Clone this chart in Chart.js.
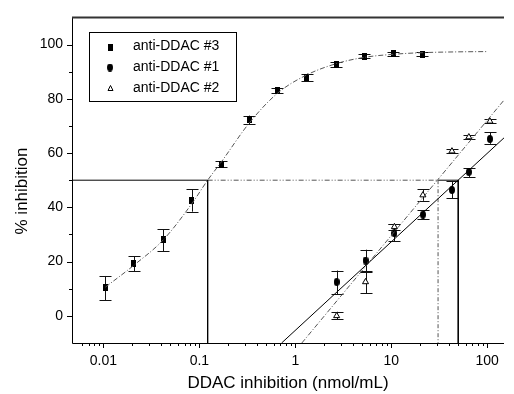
<!DOCTYPE html>
<html>
<head>
<meta charset="utf-8">
<script src="https://cdn.jsdelivr.net/npm/chart.js@4"></script>
<style>
  body { margin: 0; background: #fff; }
  canvas { display: block; }
</style>
</head>
<body>
<canvas id="chart" width="514" height="394"></canvas>
<script>
// anti-DDAC #3 (filled squares)
const x3 = [0.0105, 0.0207, 0.0418, 0.083, 0.17, 0.33, 0.65, 1.32, 2.68, 5.25, 10.5, 21];
const y3 = [10.4, 19.4, 28, 42.4, 55.8, 72.3, 83, 87.9, 92.7, 95.7, 96.6, 96.5];
const hi3 = [14.7, 22, 32, 46.7, 56.9, 73.8, 84.1, 89.3, 93.5, 96.5, 97.4, 97.4];
const lo3 = [5.7, 16.4, 23.8, 38.4, 54.7, 70.7, 82, 86.7, 91.9, 94.9, 95.8, 95.6];

// anti-DDAC #1 (filled circles)
const x1 = [2.7, 5.4, 10.8, 21.4, 43, 64.5, 107];
const y1 = [12.5, 20.4, 30.4, 37.3, 46.4, 53, 65.2];
const hi1 = [16.7, 24.4, 33.8, 39, 49.7, 54.4, 67.7];
const lo1 = [8, 16.4, 27.5, 35.7, 43.4, 51.2, 63.4];

// anti-DDAC #2 (open triangles)
const x2 = [2.7, 5.4, 10.8, 21.4, 43, 64.5, 107];
const y2 = [0, 12.5, 32.8, 44.5, 60.7, 65.9, 71.7];
const hi2 = [1.5, 16.1, 34, 46.7, 61.5, 66.6, 72.5];
const lo2 = [-1.3, 8.4, 31.5, 42.4, 59.9, 65.2, 70.9];

// fitted sigmoid for #3
const curveX = [0.0105, 0.021, 0.042, 0.084, 0.122, 0.17, 0.33, 0.65, 1.3, 2.7, 5.3, 10.5, 21, 50, 100];
const curveY = [10.6, 18.8, 28, 41.5, 50, 56.8, 71, 82, 88.7, 93, 95.3, 96.4, 97, 97.3, 97.4];

// linear fits for #1 and #2
const fit1X = [0.72, 150];
const fit1Y = [-10, 65.6];
const fit2X = [1.17, 150];
const fit2Y = [-10, 79.5];

// 50% inhibition guide lines
const ic3X = [0.0047, 0.122, 0.122];
const ic3Y = [50, 50, -10];
const midX = [0.122, 30.8];
const midY = [50, 50];
const ic2X = [30.8, 30.8];
const ic2Y = [50, -10];
const ic1X = [30.8, 50, 50];
const ic1Y = [50, 50, -10];

const xTickValues = [0.01, 0.1, 1, 10, 100];
const xTickLabels = ["0.01", "0.1", "1", "10", "100"];
const yTickValues = [0, 20, 40, 60, 80, 100];
const yTickLabels = ["0", "20", "40", "60", "80", "100"];

const legendLabels = ["anti-DDAC #3", "anti-DDAC #1", "anti-DDAC #2"];

const FONT = "'Liberation Sans', Arial, sans-serif";

function toPoints(xs, ys) {
  return xs.map((x, i) => ({ x: x, y: ys[i] }));
}

// small canvases used as point styles
function makeMarker(w, h, shape) {
  const c = document.createElement("canvas");
  c.width = w;
  c.height = h;
  const g = c.getContext("2d");
  g.fillStyle = "#000";
  if (shape === "ellipse") {
    g.beginPath();
    g.ellipse(w / 2, h / 2, w / 2, h / 2, 0, 0, Math.PI * 2);
    g.fill();
  } else {
    g.fillRect(0, 0, w, h);
  }
  return c;
}
const squareMark = makeMarker(5, 7, "rect");
const ellipseMark = makeMarker(6, 8, "ellipse");

function lineSet(xs, ys, color, dash, smooth) {
  return {
    type: "scatter",
    data: toPoints(xs, ys),
    showLine: true,
    borderColor: color,
    borderWidth: 1,
    borderDash: dash,
    pointRadius: 0,
    cubicInterpolationMode: smooth ? "monotone" : "default",
    fill: false,
  };
}

function markSet(xs, ys, his, los, style, extra) {
  return Object.assign(
    {
      type: "scatter",
      data: toPoints(xs, ys),
      _hi: his,
      _lo: los,
      pointStyle: style,
      pointRadius: 4,
      backgroundColor: "#000",
      borderColor: "#000",
      borderWidth: 1,
    },
    extra || {}
  );
}

const datasets = [
  lineSet(curveX, curveY, "#555", [5, 2, 1, 2], true),
  lineSet(fit1X, fit1Y, "#000", [], false),
  lineSet(fit2X, fit2Y, "#555", [5, 2, 1, 2], false),
  lineSet(ic3X, ic3Y, "#000", [], false),
  lineSet(midX, midY, "#555", [5, 2, 1, 2, 1, 2], false),
  lineSet(ic2X, ic2Y, "#555", [4, 2, 1, 2], false),
  lineSet(ic1X, ic1Y, "#000", [], false),
  markSet(x3, y3, hi3, lo3, squareMark),
  markSet(x1, y1, hi1, lo1, ellipseMark),
  markSet(x2, y2, hi2, lo2, "triangle", {
    pointRadius: 3.5,
    backgroundColor: "#fff",
  }),
];

function isDecade(v) {
  const l = Math.log10(v);
  return Math.abs(l - Math.round(l)) < 1e-6;
}

// error bars under the markers
const errorBars = {
  id: "errorBars",
  beforeDatasetsDraw(chart) {
    const { ctx } = chart;
    const xs = chart.scales.x;
    const ys = chart.scales.y;
    ctx.save();
    ctx.strokeStyle = "#111";
    ctx.lineWidth = 1;
    chart.data.datasets.forEach((ds) => {
      if (!ds._hi) return;
      ds.data.forEach((p, i) => {
        const px = Math.round(xs.getPixelForValue(p.x)) + 0.5;
        const top = ys.getPixelForValue(ds._hi[i]);
        const bot = ys.getPixelForValue(ds._lo[i]);
        ctx.beginPath();
        ctx.moveTo(px, top);
        ctx.lineTo(px, bot);
        ctx.moveTo(px - 6, Math.round(top) + 0.5);
        ctx.lineTo(px + 6, Math.round(top) + 0.5);
        ctx.moveTo(px - 6, Math.round(bot) + 0.5);
        ctx.lineTo(px + 6, Math.round(bot) + 0.5);
        ctx.stroke();
      });
    });
    ctx.restore();
  },
};

// frame, tick marks, y title and the boxed legend
const decorations = {
  id: "decorations",
  afterDraw(chart) {
    const { ctx, chartArea } = chart;
    const { left, right, top, bottom } = chartArea;
    const xs = chart.scales.x;
    const ys = chart.scales.y;
    ctx.save();

    ctx.strokeStyle = "#000";
    ctx.lineWidth = 1;
    ctx.beginPath();
    ctx.moveTo(left + 0.5, top);
    ctx.lineTo(left + 0.5, bottom + 0.5);
    ctx.lineTo(right, bottom + 0.5);
    ctx.stroke();
    ctx.strokeStyle = "#333";
    ctx.lineWidth = 2;
    ctx.beginPath();
    ctx.moveTo(left, top);
    ctx.lineTo(right, top);
    ctx.stroke();

    ctx.strokeStyle = "#000";
    ctx.lineWidth = 1;
    ctx.beginPath();
    xs.ticks.forEach((t) => {
      const v = t.value;
      const m = v / Math.pow(10, Math.floor(Math.log10(v) + 1e-9));
      if (Math.abs(m - Math.round(m)) > 1e-6) return;
      const px = Math.round(xs.getPixelForValue(v)) + 0.5;
      if (px <= left + 1 || px >= right - 1) return;
      const len = isDecade(v) ? 5 : 3;
      ctx.moveTo(px, bottom);
      ctx.lineTo(px, bottom + len);
    });
    ys.ticks.forEach((t) => {
      const v = t.value;
      if (v <= ys.min || v >= ys.max) return;
      const py = Math.round(ys.getPixelForValue(v)) + 0.5;
      const len = v % 20 === 0 ? 5 : 3;
      ctx.moveTo(left, py);
      ctx.lineTo(left - len, py);
    });
    ctx.stroke();

    // y axis title
    ctx.fillStyle = "#000";
    ctx.font = `17px ${FONT}`;
    ctx.textAlign = "center";
    ctx.textBaseline = "middle";
    ctx.translate(22, 191);
    ctx.rotate(-Math.PI / 2);
    ctx.fillText("% inhibition", 0, 0);
    ctx.setTransform(1, 0, 0, 1, 0, 0);

    // legend
    ctx.strokeStyle = "#000";
    ctx.lineWidth = 1;
    ctx.strokeRect(89.5, 32.5, 147, 69);
    const rows = [46.5, 67.5, 88.5];
    ctx.drawImage(squareMark, 108, rows[0] - 3);
    ctx.drawImage(ellipseMark, 107, rows[1] - 4);
    ctx.fillStyle = "#fff";
    ctx.beginPath();
    ctx.moveTo(110.5, rows[2] - 3);
    ctx.lineTo(113, rows[2] + 2);
    ctx.lineTo(108, rows[2] + 2);
    ctx.closePath();
    ctx.fill();
    ctx.stroke();
    ctx.fillStyle = "#000";
    ctx.font = `14px ${FONT}`;
    ctx.textAlign = "left";
    legendLabels.forEach((label, i) => ctx.fillText(label, 133, rows[i]));

    ctx.restore();
  },
};

new Chart(document.getElementById("chart").getContext("2d"), {
  type: "scatter",
  data: { datasets: datasets },
  plugins: [errorBars, decorations],
  options: {
    responsive: false,
    animation: false,
    devicePixelRatio: 1,
    layout: { padding: { top: 15, right: 0, left: 0, bottom: 0 } },
    plugins: {
      legend: { display: false },
      tooltip: { enabled: false },
    },
    scales: {
      x: {
        type: "logarithmic",
        min: 0.0047,
        max: 150,
        grid: { display: false, drawTicks: false },
        border: { display: false },
        ticks: {
          autoSkip: false,
          maxRotation: 0,
          padding: 10,
          color: "#000",
          font: { family: FONT, size: 14 },
          callback: (v) => {
            const i = xTickValues.findIndex(
              (t) => Math.abs(Math.log10(v) - Math.log10(t)) < 1e-6
            );
            return i > -1 ? xTickLabels[i] : "";
          },
        },
        title: {
          display: true,
          text: "DDAC inhibition (nmol/mL)",
          color: "#000",
          font: { family: FONT, size: 17 },
          padding: { top: 0, bottom: 0 },
        },
        afterFit: (s) => {
          s.height = 51;
        },
      },
      y: {
        min: -10,
        max: 110,
        grid: { display: false, drawTicks: false },
        border: { display: false },
        ticks: {
          stepSize: 10,
          padding: 9,
          color: "#000",
          font: { family: FONT, size: 14 },
          callback: (v) => {
            const i = yTickValues.indexOf(v);
            return i > -1 ? yTickLabels[i] : "";
          },
        },
        afterFit: (s) => {
          s.width = 72;
        },
      },
    },
  },
});
</script>
</body>
</html>
